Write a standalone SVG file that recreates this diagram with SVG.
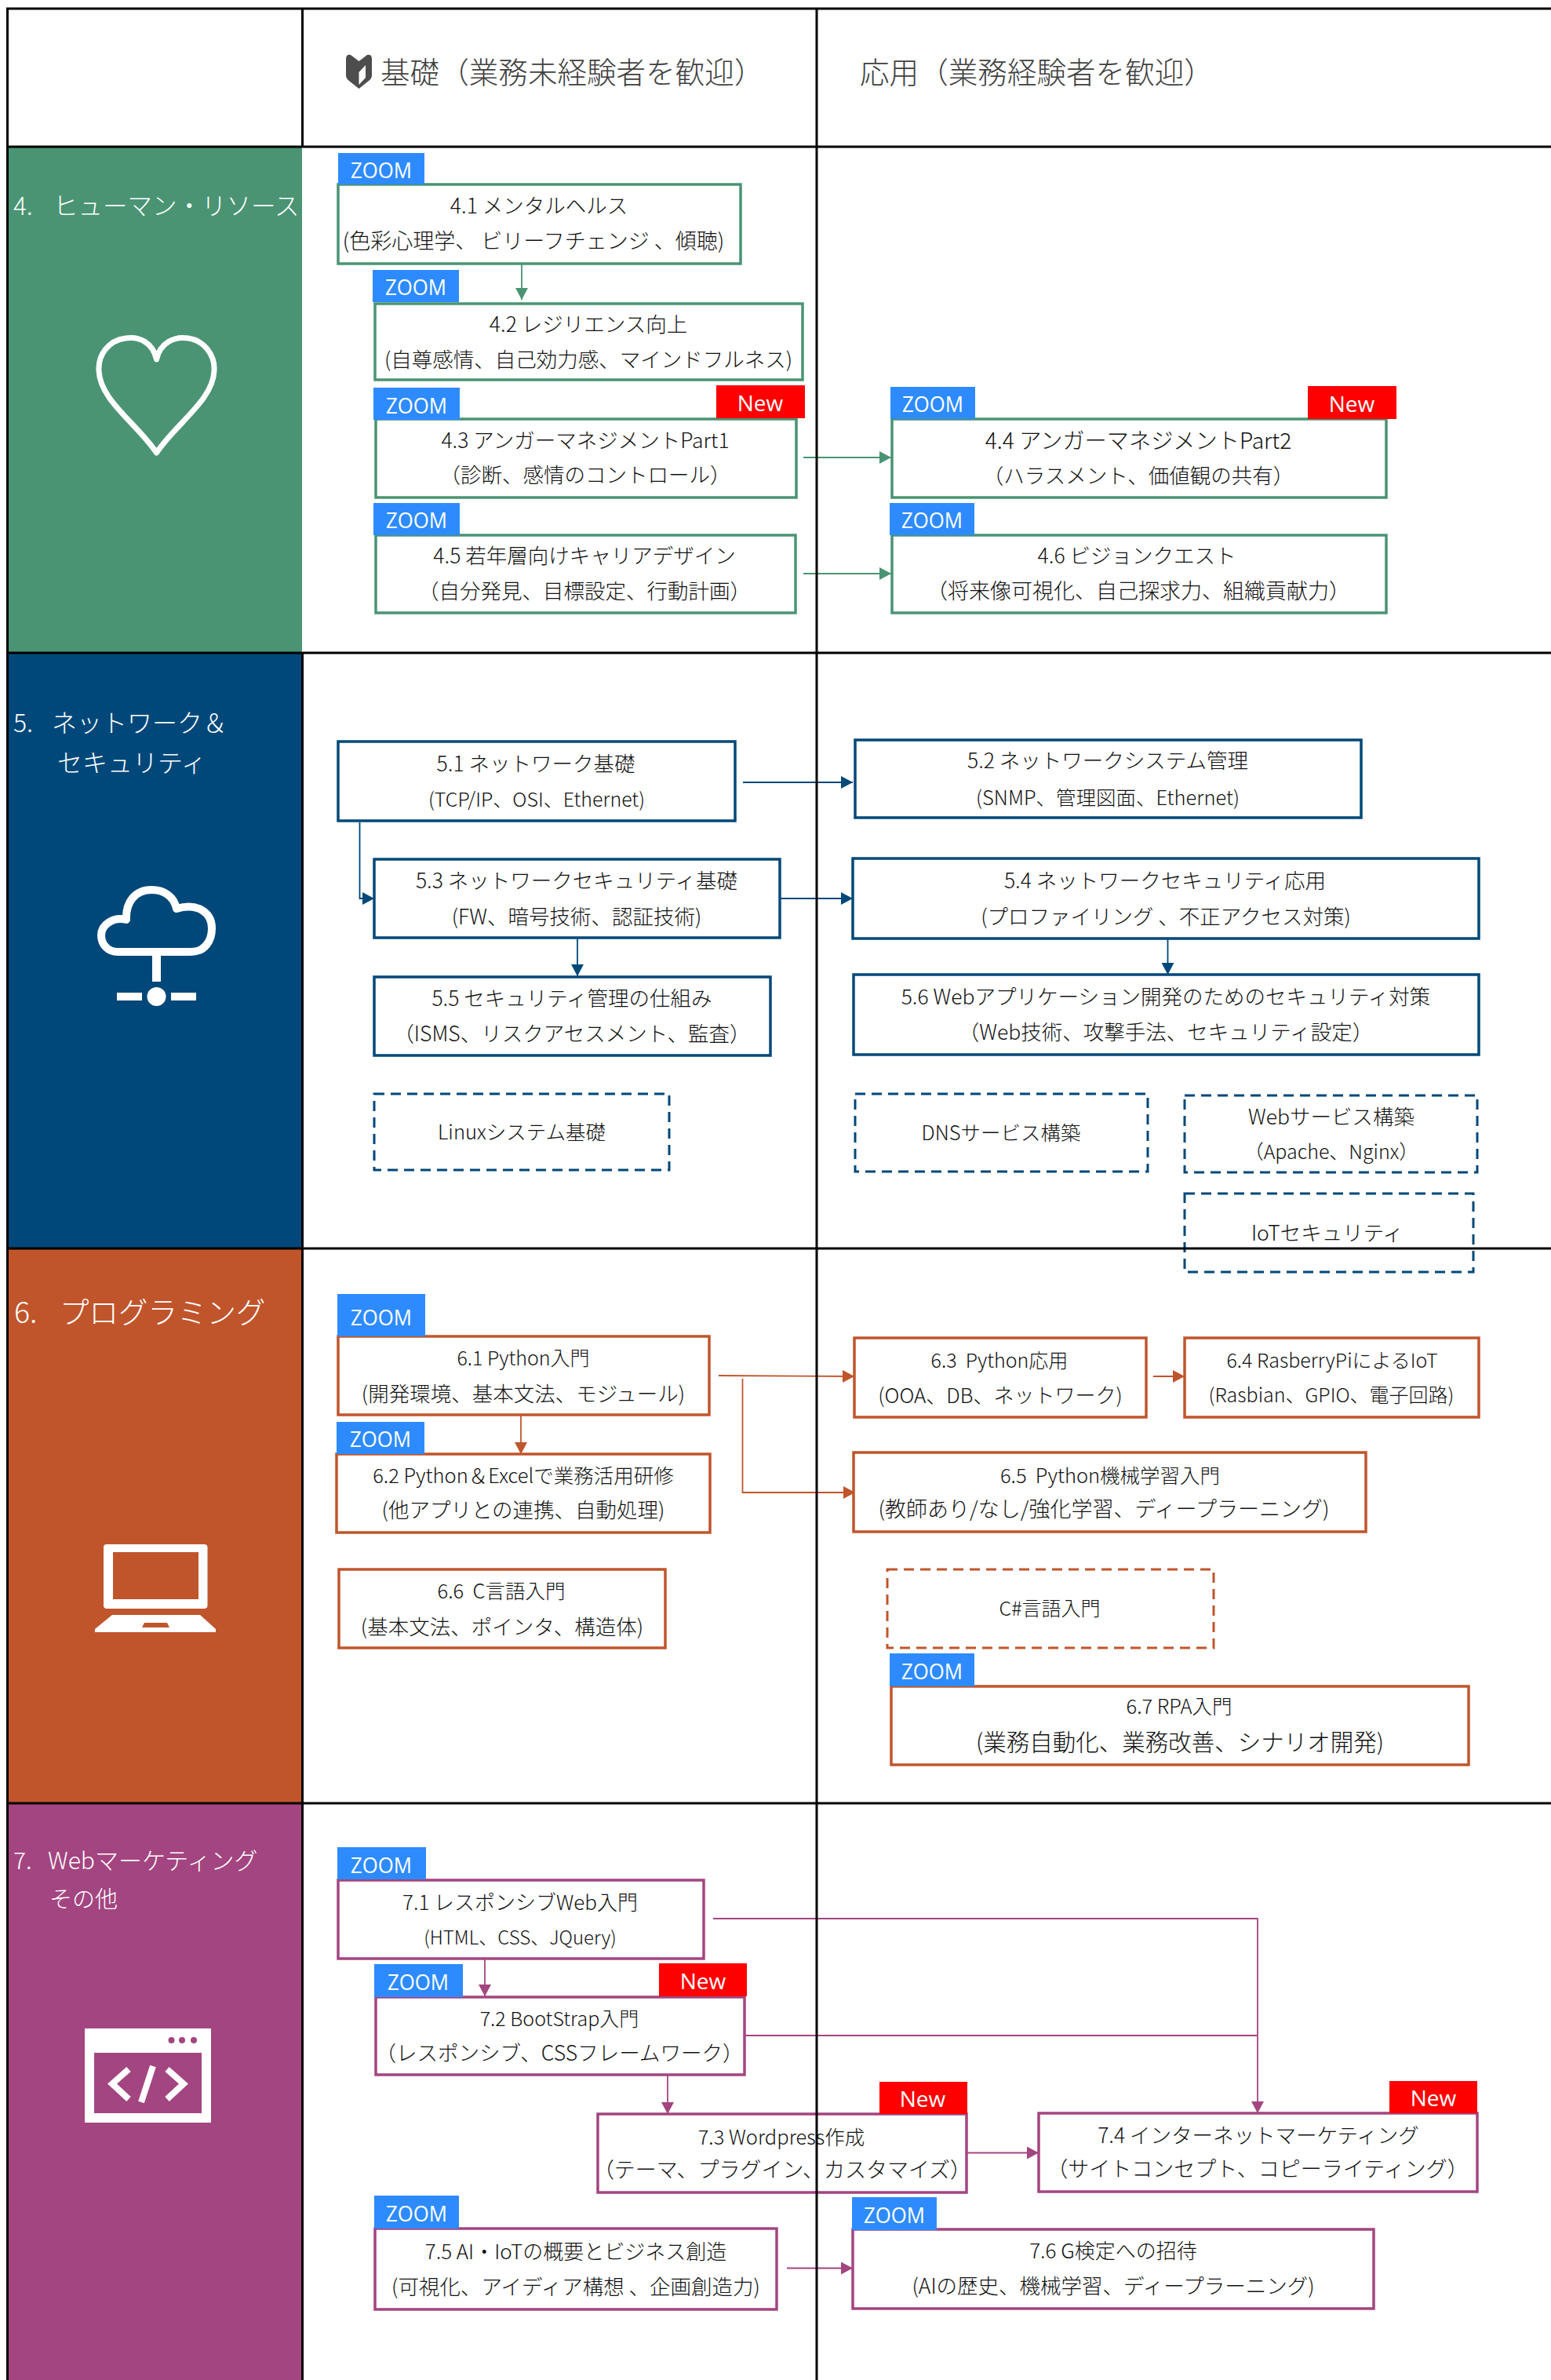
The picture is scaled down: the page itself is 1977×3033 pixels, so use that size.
<svg xmlns="http://www.w3.org/2000/svg" width="1977" height="3033" viewBox="0 0 1977 3033">
<style>
text{font-family:"Noto Sans CJK JP","Noto Sans",sans-serif;text-anchor:middle;dominant-baseline:central;font-size:26.5px;fill:#111;font-weight:300;white-space:pre;transform:translateY(-2px)}
.sec{fill:#fff;text-anchor:start;font-size:32px}
.hd{fill:#404040;text-anchor:start;font-size:37.6px}
.tag{fill:#fff;font-family:"Open Sans","Noto Sans",sans-serif;font-size:28px;font-weight:400;transform:translateY(0)}
.s24{font-size:24px}.s25{font-size:25px}.s255{font-size:25.5px}.s26{font-size:26px}.s27{font-size:27px}.s28{font-size:28.2px}.s295{font-size:29.5px}
.z{fill:#2e8bff}.n{fill:#ff0000}
.b{fill:#fff;stroke-width:3.5}
.d{stroke-dasharray:13 8;stroke-width:3;fill:#fff}
.g{stroke:#4a9473}.bl{stroke:#004879}.o{stroke:#c0552c}.p{stroke:#a34580}
.c{fill:none;stroke-width:1.8}
.grid{stroke:#000;stroke-width:3;fill:none}
.ic{fill:#fff}
</style>
<defs>
<marker id="ag" markerUnits="userSpaceOnUse" markerWidth="16" markerHeight="16" refX="15" refY="8" orient="auto"><path d="M0 0L15 8L0 16Z" fill="#4a9473"/></marker>
<marker id="ab" markerUnits="userSpaceOnUse" markerWidth="16" markerHeight="16" refX="15" refY="8" orient="auto"><path d="M0 0L15 8L0 16Z" fill="#004879"/></marker>
<marker id="ao" markerUnits="userSpaceOnUse" markerWidth="16" markerHeight="16" refX="15" refY="8" orient="auto"><path d="M0 0L15 8L0 16Z" fill="#c0552c"/></marker>
<marker id="ap" markerUnits="userSpaceOnUse" markerWidth="16" markerHeight="16" refX="15" refY="8" orient="auto"><path d="M0 0L15 8L0 16Z" fill="#a34580"/></marker>
</defs>

<g id="panels">
<rect x="10" y="187" width="375" height="645" fill="#4a9473"/>
<rect x="10" y="832" width="375" height="759" fill="#004879"/>
<rect x="10" y="1591" width="375" height="707" fill="#c0552c"/>
<rect x="10" y="2298" width="375" height="735" fill="#a34580"/>
</g>

<g id="section-labels">
<text class="sec" x="17" y="262" style="font-size:31.500px">4.<tspan x="68">ヒューマン・リソース</tspan></text>
<text class="sec" x="17" y="921">5.<tspan x="66">ネットワーク＆</tspan></text>
<text class="sec" x="73" y="972">セキュリティ</text>
<text class="sec" x="18" y="1671" style="font-size:37.500px">6.<tspan x="76">プログラミング</tspan></text>
<text class="sec" x="17" y="2371" style="font-size:30px">7.<tspan x="61">Webマーケティング</tspan></text>
<text class="sec" x="63" y="2420" style="font-size:29px">その他</text>
</g>

<g id="icons">
<path id="icon-heart" d="M199.5 458C195 437 178 428 160 431C138 434 125 452 126 472C127 510 175 540 199.5 577C224 540 272 510 273 472C274 452 260 434 240 431C222 428 204 437 199.5 458Z" fill="none" stroke="#fff" stroke-width="7" stroke-linejoin="round"/>
<g id="icon-cloud">
<path d="M150 1213H243C262 1213 270 1198 270 1183C270 1163 252 1150 225 1158C222 1143 210 1134 193 1134C172 1134 160 1150 161 1172C145 1168 129 1178 129 1192C129 1204 138 1213 150 1213Z" fill="none" stroke="#fff" stroke-width="10" stroke-linejoin="round"/>
<rect class="ic" x="194" y="1216" width="11" height="35"/>
<rect class="ic" x="149" y="1265" width="32" height="10"/>
<rect class="ic" x="218" y="1265" width="32" height="10"/>
<circle class="ic" cx="199.5" cy="1270" r="12"/>
</g>
<g id="icon-laptop">
<path class="ic" fill-rule="evenodd" d="M136 1968H260Q264.500 1968 264.500 1972V2046Q264.500 2050 260 2050H136Q132 2050 132 2046V1972Q132 1968 136 1968ZM144 1978V2038H253V1978Z"/>
<path class="ic" d="M143 2058H255L275 2076V2080H121V2076Z"/>
<path d="M184 2068H213L216 2074H181Z" fill="#c0552c"/>
</g>
<g id="icon-code">
<rect class="ic" x="108" y="2585" width="161" height="120"/>
<rect x="120" y="2616" width="137" height="77" fill="#a34580"/>
<circle cx="218.500" cy="2600" r="4" fill="#a34580"/><circle cx="232" cy="2600" r="4" fill="#a34580"/><circle cx="247" cy="2600" r="4" fill="#a34580"/>
<path d="M164 2637L143 2655.500L164 2675M213 2637L234 2655.500L213 2675M195 2633L180 2679" fill="none" stroke="#fff" stroke-width="8"/>
</g>
<g id="icon-wakaba">
<path d="M441 75Q441 69 447 70L457.500 78L468 70Q474 69 474 75V96Q474 100 470 103L457.500 113L445 103Q441 100 441 96Z" fill="#4d4d4d"/>
<path d="M466 83L457.500 92V108L466 99Z" fill="#fff"/>
</g>
</g>

<g id="header">
<text class="hd" x="485" y="91">基礎（業務未経験者を歓迎）</text>
<text class="hd" x="1096" y="91">応用（業務経験者を歓迎）</text>
</g>

<g id="connectors">
<path class="c g" d="M665 336V382" marker-end="url(#ag)"/>
<path class="c g" d="M1024 583H1136" marker-end="url(#ag)"/>
<path class="c g" d="M1024 731H1136" marker-end="url(#ag)"/>
<path class="c bl" d="M947 997H1087" marker-end="url(#ab)"/>
<path class="c bl" d="M458.500 1048V1145H477" marker-end="url(#ab)"/>
<path class="c bl" d="M994 1145H1087" marker-end="url(#ab)"/>
<path class="c bl" d="M736 1195V1244" marker-end="url(#ab)"/>
<path class="c bl" d="M1488.500 1196V1242" marker-end="url(#ab)"/>
<path class="c o" d="M664 1803V1853" marker-end="url(#ao)"/>
<path class="c o" d="M916 1753L1089 1754" marker-end="url(#ao)"/>
<path class="c o" d="M946.500 1757V1902H1090" marker-end="url(#ao)"/>
<path class="c o" d="M1470 1754H1510" marker-end="url(#ao)"/>
<path class="c p" d="M618 2496V2544" marker-end="url(#ap)"/>
<path class="c p" d="M851 2643V2694" marker-end="url(#ap)"/>
<path class="c p" d="M909 2445H1603V2693" marker-end="url(#ap)"/>
<path class="c p" d="M948 2594H1603"/>
<path class="c p" d="M1232 2743.500H1324" marker-end="url(#ap)"/>
<path class="c p" d="M1003 2890.500H1087" marker-end="url(#ap)"/>
</g>

<g id="n41"><rect class="b g" x="431" y="235" width="513" height="101"/><rect class="z" x="431" y="195" width="110" height="40"/><text class="tag" x="486" y="216" textLength="78" lengthAdjust="spacingAndGlyphs">ZOOM</text><text x="687" y="262">4.1 メンタルヘルス</text><text class="s27" x="680" y="307">(色彩心理学、 ビリーフチェンジ 、傾聴)</text></g>
<g id="n42"><rect class="b g" x="478" y="387" width="545" height="97"/><rect class="z" x="475" y="344" width="110" height="41"/><text class="tag" x="530" y="365" textLength="78" lengthAdjust="spacingAndGlyphs">ZOOM</text><text x="750" y="413">4.2 レジリエンス向上</text><text x="750" y="458">(自尊感情、自己効力感、マインドフルネス)</text></g>
<g id="n43"><rect class="b g" x="479" y="534" width="536" height="100"/><rect class="z" x="476" y="494" width="110" height="41"/><rect class="n" x="913" y="491" width="113" height="42"/><text class="tag" x="531" y="516" textLength="78" lengthAdjust="spacingAndGlyphs">ZOOM</text><text class="tag" x="969" y="513">New</text><text x="746" y="561">4.3 アンガーマネジメントPart1</text><text x="746" y="605">（診断、感情のコントロール）</text></g>
<g id="n44"><rect class="b g" x="1137" y="534" width="630" height="100"/><rect class="z" x="1135" y="493" width="108" height="41"/><rect class="n" x="1667" y="492" width="113" height="42"/><text class="tag" x="1189" y="514" textLength="78" lengthAdjust="spacingAndGlyphs">ZOOM</text><text class="tag" x="1723" y="514">New</text><text class="s28" x="1451" y="561">4.4 アンガーマネジメントPart2</text><text x="1451" y="606">（ハラスメント、価値観の共有）</text></g>
<g id="n45"><rect class="b g" x="479" y="682" width="535" height="99"/><rect class="z" x="476" y="641" width="110" height="41"/><text class="tag" x="531" y="662" textLength="78" lengthAdjust="spacingAndGlyphs">ZOOM</text><text x="745" y="708">4.5 若年層向けキャリアデザイン</text><text x="745" y="753">（自分発見、目標設定、行動計画）</text></g>
<g id="n46"><rect class="b g" x="1137" y="682" width="630" height="99"/><rect class="z" x="1134" y="641" width="108" height="41"/><text class="tag" x="1188" y="662" textLength="78" lengthAdjust="spacingAndGlyphs">ZOOM</text><text x="1449" y="708">4.6 ビジョンクエスト</text><text class="s27" x="1451" y="753">（将来像可視化、自己探求力、組織貢献力）</text></g>

<g id="n51"><rect class="b bl" x="431" y="945" width="506" height="101"/><text x="683" y="973">5.1 ネットワーク基礎</text><text class="s25" x="684" y="1019">(TCP/IP、OSI、Ethernet)</text></g>
<g id="n52"><rect class="b bl" x="1090" y="943" width="645" height="99"/><text x="1412" y="969">5.2 ネットワークシステム管理</text><text class="s255" x="1412" y="1016">(SNMP、管理図面、Ethernet)</text></g>
<g id="n53"><rect class="b bl" x="477" y="1095" width="517" height="100"/><text x="735" y="1122">5.3 ネットワークセキュリティ基礎</text><text x="735" y="1168">(FW、暗号技術、認証技術)</text></g>
<g id="n54"><rect class="b bl" x="1087" y="1094" width="798" height="102"/><text x="1485" y="1122">5.4 ネットワークセキュリティ応用</text><text x="1486" y="1168">(プロファイリング 、不正アクセス対策)</text></g>
<g id="n55"><rect class="b bl" x="477" y="1245" width="505" height="100"/><text x="729" y="1272">5.5 セキュリティ管理の仕組み</text><text x="729" y="1317">（ISMS、リスクアセスメント、監査）</text></g>
<g id="n56"><rect class="b bl" x="1088" y="1242" width="797" height="102"/><text x="1486" y="1270">5.6 Webアプリケーション開発のためのセキュリティ対策</text><text x="1486" y="1315">（Web技術、攻撃手法、セキュリティ設定）</text></g>
<g id="n-linux"><rect class="d bl" x="477" y="1394" width="376" height="97"/><text class="s255" x="665" y="1442">Linuxシステム基礎</text></g>
<g id="n-dns"><rect class="d bl" x="1090" y="1394" width="373" height="99"/><text class="s255" x="1276" y="1443">DNSサービス構築</text></g>
<g id="n-web"><rect class="d bl" x="1510" y="1396" width="373" height="98"/><text x="1697" y="1423">Webサービス構築</text><text class="s25" x="1697" y="1468">（Apache、Nginx）</text></g>
<g id="n-iot"><rect class="d bl" x="1510" y="1521" width="368" height="100"/><text x="1692" y="1571">IoTセキュリティ</text></g>

<g id="n61"><rect class="b o" x="431" y="1703" width="473" height="100"/><rect class="z" x="430" y="1649" width="112" height="54"/><text class="tag" x="486" y="1678" textLength="78" lengthAdjust="spacingAndGlyphs">ZOOM</text><text class="s25" x="667" y="1731">6.1 Python入門</text><text x="667" y="1776">(開発環境、基本文法、モジュール)</text></g>
<g id="n62"><rect class="b o" x="429" y="1853" width="476" height="100"/><rect class="z" x="429" y="1812" width="112" height="41"/><text class="tag" x="485" y="1833" textLength="78" lengthAdjust="spacingAndGlyphs">ZOOM</text><text class="s255" x="667" y="1880">6.2 Python＆Excelで業務活用研修</text><text x="667" y="1924">(他アプリとの連携、自動処理)</text></g>
<g id="n63"><rect class="b o" x="1089" y="1705" width="372" height="101"/><text class="s25" x="1274" y="1734">6.3  Python応用</text><text class="s26" x="1275" y="1778">(OOA、DB、ネットワーク)</text></g>
<g id="n64"><rect class="b o" x="1510" y="1705" width="375" height="101"/><text class="s25" x="1698" y="1734">6.4 RasberryPiによるIoT</text><text class="s25" x="1697" y="1778">(Rasbian、GPIO、電子回路)</text></g>
<g id="n65"><rect class="b o" x="1088" y="1851" width="653" height="101"/><text class="s255" x="1415" y="1880">6.5  Python機械学習入門</text><text class="s27" x="1407" y="1923">(教師あり/なし/強化学習、ディープラーニング)</text></g>
<g id="n66"><rect class="b o" x="432" y="2000" width="416" height="100"/><text class="s255" x="639" y="2027">6.6  C言語入門</text><text x="640" y="2073">(基本文法、ポインタ、構造体)</text></g>
<g id="n-cs"><rect class="d o" x="1131" y="2000" width="416" height="100"/><text class="s25" x="1338" y="2050">C#言語入門</text></g>
<g id="n67"><rect class="b o" x="1136" y="2149" width="736" height="100"/><rect class="z" x="1134" y="2107" width="108" height="42"/><text class="tag" x="1188" y="2129" textLength="78" lengthAdjust="spacingAndGlyphs">ZOOM</text><text class="s255" x="1503" y="2174">6.7 RPA入門</text><text class="s295" x="1504" y="2220">(業務自動化、業務改善、シナリオ開発)</text></g>

<g id="n71"><rect class="b p" x="431" y="2396" width="466" height="100"/><rect class="z" x="430" y="2354" width="113" height="41"/><text class="tag" x="486" y="2376" textLength="78" lengthAdjust="spacingAndGlyphs">ZOOM</text><text class="s26" x="663" y="2424">7.1 レスポンシブWeb入門</text><text class="s24" x="663" y="2469">(HTML、CSS、JQuery)</text></g>
<g id="n72"><rect class="b p" x="479" y="2545" width="470" height="99"/><rect class="z" x="477" y="2503" width="113" height="42"/><rect class="n" x="840" y="2502" width="112" height="42"/><text class="tag" x="533" y="2525" textLength="78" lengthAdjust="spacingAndGlyphs">ZOOM</text><text class="tag" x="896" y="2524">New</text><text class="s25" x="713" y="2573">7.2 BootStrap入門</text><text x="713" y="2616">（レスポンシブ、CSSフレームワーク）</text></g>
<g id="n73"><rect class="b p" x="762" y="2694" width="470" height="100"/><rect class="n" x="1121" y="2653" width="112" height="41"/><text class="tag" x="1176" y="2674">New</text><text class="s255" x="996" y="2723">7.3 Wordpress作成</text><text class="s27" x="997" y="2765">（テーマ、プラグイン、カスタマイズ）</text></g>
<g id="n74"><rect class="b p" x="1324" y="2693" width="559" height="100"/><rect class="n" x="1771" y="2652" width="112" height="41"/><text class="tag" x="1827" y="2673">New</text><text x="1604" y="2721">7.4 インターネットマーケティング</text><text class="s27" x="1603" y="2764">（サイトコンセプト、コピーライティング）</text></g>
<g id="n75"><rect class="b p" x="478" y="2840" width="512" height="103"/><rect class="z" x="477" y="2798" width="108" height="42"/><text class="tag" x="531" y="2820" textLength="78" lengthAdjust="spacingAndGlyphs">ZOOM</text><text class="s26" x="734" y="2869">7.5 AI・IoTの概要とビジネス創造</text><text x="734" y="2914">(可視化、アイディア構想 、企画創造力)</text></g>
<g id="n76"><rect class="b p" x="1087" y="2841" width="664" height="101"/><rect class="z" x="1086" y="2800" width="108" height="42"/><text class="tag" x="1140" y="2822" textLength="78" lengthAdjust="spacingAndGlyphs">ZOOM</text><text class="s26" x="1419" y="2868">7.6 G検定への招待</text><text x="1419" y="2913">(AIの歴史、機械学習、ディープラーニング)</text></g>

<g id="grid">
<path class="grid" d="M9.500 11V3033M385.500 11V187M385.500 832V3033M1041 11V3033M8 11H1977M8 187H1977M8 832H1977M8 1591H1977M8 2298H1977"/>
</g>
</svg>
